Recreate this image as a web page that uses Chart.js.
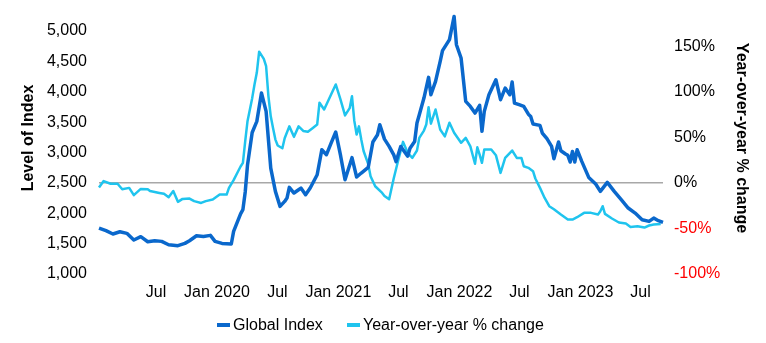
<!DOCTYPE html>
<html>
<head>
<meta charset="utf-8">
<script src="https://cdn.jsdelivr.net/npm/chart.js@4.4.0/dist/chart.umd.min.js"></script>
<style>
html,body{margin:0;padding:0;background:#fff;}
#wrap{width:766px;height:343px;position:relative;font-family:'Liberation Sans',Arial,Helvetica,sans-serif;}
.lg{position:absolute;top:317px;height:16px;line-height:16px;font-size:16px;color:#000;white-space:nowrap;}
.lg i{position:absolute;top:6px;width:13px;height:4px;}
.lg span{position:absolute;left:16px;top:0;}
</style>
</head>
<body>
<div id="wrap">
<canvas id="c" width="766" height="343"></canvas>
<div id="legend"></div>
</div>
<script>
// ---- data (weekly observations, week 0 = startDate) ----
const startDate = '2019-01-10';
const endWeek = 243;

const tickDates  = ['2019-07-01','2020-01-01','2020-07-01','2021-01-01','2021-07-01','2022-01-01','2022-07-01','2023-01-01','2023-07-01'];
const tickLabels = ['Jul','Jan 2020','Jul','Jan 2021','Jul','Jan 2022','Jul','Jan 2023','Jul'];

const leftTicks  = [1000,1500,2000,2500,3000,3500,4000,4500,5000];
const rightTicks = [-100,-50,0,50,100,150];

const indexWeeks = [0,3,6,9,12,15,18,21,24,27,30,34,37,39,42,45,48,50,53,57,58,61,62,63,64,66,68,70,72,74,76,78,80,81,82,84,86,87,89,91,94,96,98,100,102,104,106,109,111,113,116,118,120,121,123,125,127,128,130,133,134,136,137,138,140,142,143,145,147,148,151,153,154,156,158,160,162,164,165,166,168,170,171,173,175,177,178,179,181,183,185,186,187,190,191,193,195,196,198,199,201,202,203,204,205,206,208,211,214,216,219,222,225,228,231,234,237,239,241,243];
const indexValues = [1756,1713,1658,1696,1669,1559,1614,1531,1548,1537,1482,1466,1504,1548,1630,1619,1636,1537,1504,1493,1701,1990,2060,2350,2800,3330,3512,3980,3677,2744,2360,2113,2195,2250,2426,2333,2387,2415,2305,2415,2634,3046,2964,3156,3337,2964,2552,2915,2596,2662,2755,3172,3293,3457,3220,3101,2960,2850,3100,2940,3070,3180,3485,3622,3896,4237,3951,4171,4500,4676,4857,5240,4774,4555,3841,3759,3649,3776,3348,3677,3951,4116,4198,3869,4061,3951,4160,3814,3787,3759,3630,3594,3468,3446,3320,3227,3101,2898,3172,3029,2975,2953,2843,3018,2843,3046,2854,2590,2481,2360,2508,2360,2223,2086,2003,1894,1866,1921,1877,1850];

const yoyWeeks = [0,2,5,8,10,13,15,18,21,22,26,28,30,32,34,36,39,41,44,46,49,52,55,56,58,60,61,62,63,64,66,67,68,69,71,72,73,74,75,76,77,79,80,82,84,86,88,90,92,94,95,97,100,102,104,106,108,109,110,111,112,113,114,116,117,119,122,123,125,127,129,131,133,135,137,138,140,141,142,143,145,147,149,151,153,156,158,160,162,163,164,165,166,169,171,173,175,178,180,182,183,185,187,188,190,192,194,196,199,202,204,206,209,212,215,216,217,218,221,224,227,229,232,235,237,239,242];
const yoyValues = [-5,2,-1,-1,-7,-5.5,-13.5,-6.6,-7,-9,-11,-12,-15.7,-9,-20.8,-17.6,-17.2,-20,-22,-20,-18.3,-12.8,-12.8,-5.5,3,13,18,22,45.7,68,93,108,121,144,136,128,95,73,60,47.5,41,38,49,62,50.5,62,57,56,60,64,88,80.5,97,108,92,74,82,95,68,53,62,47.5,35,20.5,7.3,-3.7,-11,-14.3,-18,5,25.6,45,33,27.4,35.5,49.4,57.4,64,83,65,80.5,58.5,51,66,55,44,49.4,40,21,39,31,22,36.6,36.6,30.4,11,27.4,35.5,27.4,27.4,18.3,16.5,12.8,4.8,-5.5,-16.5,-25.6,-28.9,-34.7,-40.2,-40.2,-37.7,-32.9,-32.9,-34.7,-31.1,-25.6,-34,-39.1,-43.5,-44.6,-48.3,-47.5,-49,-46.8,-45.7,-45];

// ---- helpers ----
const DAY = 86400000;
const weekOf = d => (Date.parse(d) - Date.parse(startDate)) / (7 * DAY);
const tickWeeks = tickDates.map(weekOf);
const toPoints = (xs, ys) => xs.map((x, i) => ({x: x, y: ys[i]}));

const FONT = "'Liberation Sans', Arial, Helvetica, sans-serif";
const DARK = '#0a68cc';
const CYAN = '#1fc4ee';

// axis titles, centred where the reference places them
const axisTitles = {
  id: 'axisTitles',
  afterDraw(chart) {
    const ctx = chart.ctx;
    ctx.save();
    ctx.font = 'bold 16px ' + FONT;
    ctx.fillStyle = '#000';
    ctx.textAlign = 'center';
    ctx.textBaseline = 'middle';
    const cy = 138;
    ctx.translate(29, cy); ctx.rotate(-Math.PI / 2);
    ctx.fillText(chart.options.scales.y.titleText, 0, 0);
    ctx.setTransform(1, 0, 0, 1, 0, 0);
    ctx.translate(741, cy); ctx.rotate(Math.PI / 2);
    ctx.fillText(chart.options.scales.y1.titleText, 0, 0);
    ctx.restore();
  }
};

const chart = new Chart(document.getElementById('c'), {
  type: 'line',
  data: {
    datasets: [
      {
        label: 'Global Index',
        data: toPoints(indexWeeks, indexValues),
        yAxisID: 'y',
        borderColor: DARK,
        backgroundColor: DARK,
        borderWidth: 3.5,
        pointRadius: 0,
        tension: 0,
        clip: false,
        borderJoinStyle: 'round'
      },
      {
        label: 'Year-over-year % change',
        data: toPoints(yoyWeeks, yoyValues),
        yAxisID: 'y1',
        borderColor: CYAN,
        backgroundColor: CYAN,
        borderWidth: 2.5,
        pointRadius: 0,
        tension: 0,
        clip: false,
        borderJoinStyle: 'round'
      }
    ]
  },
  plugins: [axisTitles],
  options: {
    responsive: false,
    animation: false,
    layout: { padding: { left: 15, right: 12, top: 31, bottom: 40 } },
    plugins: {
      tooltip: { enabled: false },
      legend: { display: false }
    },
    scales: {
      x: {
        type: 'linear',
        min: 0,
        max: endWeek,
        grid: { display: false, drawTicks: false },
        border: { display: false },
        afterBuildTicks: (s) => { s.ticks = tickWeeks.map(v => ({ value: v })); },
        afterFit: (s) => { s.height = 29; },
        ticks: {
          autoSkip: false,
          maxRotation: 0,
          padding: 9,
          color: '#000',
          font: { family: FONT, size: 16 },
          callback: (v, i) => tickLabels[i]
        }
      },
      y: {
        position: 'left',
        min: 1000,
        max: 5000,
        titleText: 'Level of Index',
        grid: { display: false, drawTicks: false },
        border: { display: false },
        afterBuildTicks: (s) => { s.ticks = leftTicks.map(v => ({ value: v })); },
        afterFit: (s) => { s.width = 84; },
        ticks: {
          padding: 12,
          color: '#000',
          font: { family: FONT, size: 16 },
          callback: (v) => v.toLocaleString('en-US')
        }
      },
      y1: {
        position: 'right',
        min: -100,
        max: 500 / 3,
        titleText: 'Year-over-year % change',
        grid: {
          display: true,
          drawTicks: false,
          color: (ctx) => (ctx.tick && ctx.tick.value === 0) ? '#a8a8a8' : 'rgba(0,0,0,0)',
          lineWidth: 1.5
        },
        border: { display: false },
        afterBuildTicks: (s) => { s.ticks = rightTicks.map(v => ({ value: v })); },
        afterFit: (s) => { s.width = 91; },
        ticks: {
          padding: 11,
          color: (ctx) => (ctx.tick && ctx.tick.value < 0) ? '#ff0000' : '#000',
          font: { family: FONT, size: 16 },
          callback: (v) => v + '%'
        }
      }
    }
  }
});

// HTML legend built from the chart's datasets
const legendLeft = [217, 347];
const legendEl = document.getElementById('legend');
chart.data.datasets.forEach((ds, i) => {
  const d = document.createElement('div');
  d.className = 'lg';
  d.style.left = legendLeft[i] + 'px';
  d.innerHTML = '<i style="background:' + ds.borderColor + '"></i><span></span>';
  d.querySelector('span').textContent = ds.label;
  legendEl.appendChild(d);
});
</script>
</body>
</html>
